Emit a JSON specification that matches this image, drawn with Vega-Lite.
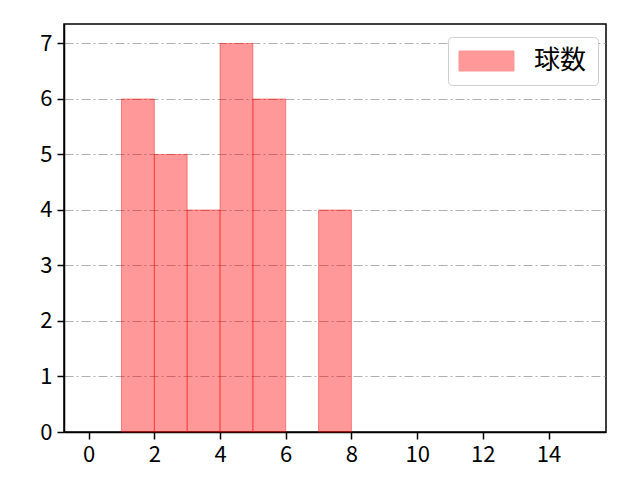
{
  "$schema": "https://vega.github.io/schema/vega-lite/v6.json",
  "description": "Pitch count histogram",
  "autosize": {"type": "none"},
  "width": 542,
  "height": 408,
  "padding": {"left": 64, "top": 24, "right": 34, "bottom": 48},
  "background": "white",
  "data": {
    "values": [
      {"bin_start": 1, "bin_end": 2, "count": 6, "series": "球数"},
      {"bin_start": 2, "bin_end": 3, "count": 5, "series": "球数"},
      {"bin_start": 3, "bin_end": 4, "count": 4, "series": "球数"},
      {"bin_start": 4, "bin_end": 5, "count": 7, "series": "球数"},
      {"bin_start": 5, "bin_end": 6, "count": 6, "series": "球数"},
      {"bin_start": 7, "bin_end": 8, "count": 4, "series": "球数"}
    ]
  },
  "mark": {
    "type": "rect",
    "fillOpacity": 0.4,
    "strokeOpacity": 0.4,
    "strokeWidth": 1,
    "stroke": "#ff0000"
  },
  "encoding": {
    "x": {
      "field": "bin_start",
      "type": "quantitative",
      "scale": {"domain": [-0.75, 15.75], "nice": false, "zero": false},
      "axis": {
        "title": null,
        "values": [0, 2, 4, 6, 8, 10, 12, 14],
        "grid": false
      }
    },
    "x2": {"field": "bin_end"},
    "y": {
      "field": "count",
      "type": "quantitative",
      "scale": {"domain": [0, 7.35], "nice": false},
      "axis": {
        "title": null,
        "values": [0, 1, 2, 3, 4, 5, 6, 7],
        "grid": true,
        "gridColor": "#b0b0b0",
        "gridDash": [9, 3, 2, 3],
        "gridWidth": 1
      }
    },
    "y2": {"datum": 0},
    "color": {
      "field": "series",
      "type": "nominal",
      "scale": {"domain": ["球数"], "range": ["#ff0000"]},
      "legend": {
        "title": null,
        "orient": "none",
        "legendX": 384,
        "legendY": 13,
        "padding": 11,
        "strokeColor": "#d0d0d0",
        "fillColor": "white",
        "cornerRadius": 4,
        "symbolType": "M-1.3,-1H4.2V1H-1.3Z",
        "symbolSize": 400,
        "symbolOpacity": 0.4,
        "symbolStrokeColor": "#ff0000",
        "symbolStrokeWidth": 1,
        "labelFont": "Noto Sans CJK JP",
        "labelFontSize": 26,
        "labelColor": "black",
        "labelOffset": 49,
        "labelLimit": 200
      }
    }
  },
  "config": {
    "view": {"stroke": "black", "strokeWidth": 1.5},
    "axis": {
      "domainColor": "black",
      "domainWidth": 1.5,
      "tickColor": "black",
      "tickWidth": 1.5,
      "tickSize": 7,
      "labelColor": "black",
      "labelFont": "Noto Sans CJK JP",
      "labelFontSize": 22,
      "labelPadding": 5
    }
  }
}
